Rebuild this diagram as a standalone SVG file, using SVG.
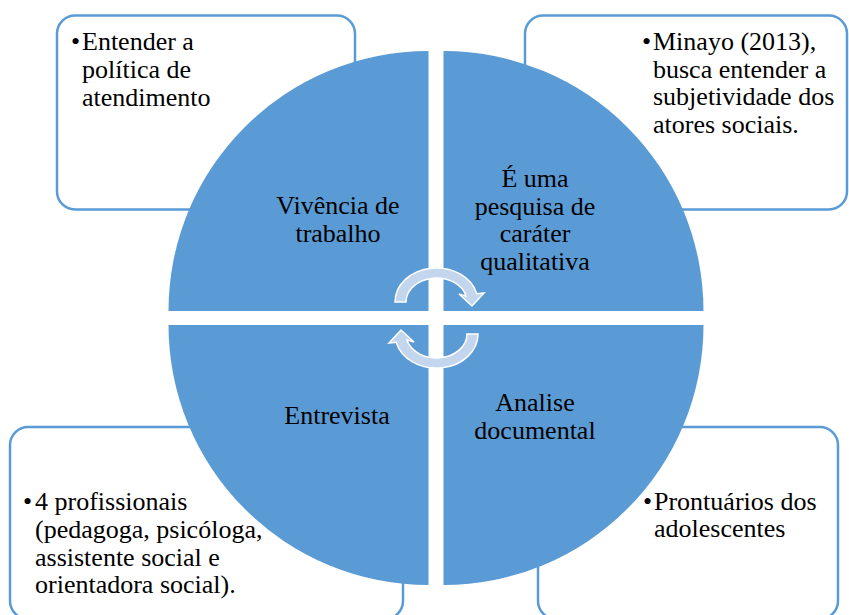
<svg xmlns="http://www.w3.org/2000/svg" width="849" height="615" viewBox="0 0 849 615">
<defs>
<path id="cyc" d="M395,302 A41.5,34 0 0 1 476.8,293.8 L484,293 L472,306 L459,294 L466.1,296.2 A30.5,24 0 0 0 406,302 Z"/>
</defs>
<rect width="849" height="615" fill="#fff"/>
<g id="box-tl"><rect fill="#fff" stroke="#5B9BD5" stroke-width="2.5" x="57" y="15.5" width="298" height="194" rx="18"/></g>
<g id="box-tr"><rect fill="#fff" stroke="#5B9BD5" stroke-width="2.5" x="525" y="15.5" width="322" height="194" rx="18"/></g>
<g id="box-bl"><rect fill="#fff" stroke="#5B9BD5" stroke-width="2.5" x="10" y="427" width="393" height="192" rx="18"/></g>
<g id="box-br"><rect fill="#fff" stroke="#5B9BD5" stroke-width="2.5" x="538" y="427" width="300" height="192" rx="18"/></g>
<g id="q-tl"><path fill="#5B9BD5" d="M428.5,311 L168.5,311 A260,260 0 0 1 428.5,51 Z"/></g>
<g id="q-tr"><path fill="#5B9BD5" d="M443.5,311 L443.5,51 A260,260 0 0 1 703.5,311 Z"/></g>
<g id="q-bl"><path fill="#5B9BD5" d="M428.5,325 L428.5,585 A260,260 0 0 1 168.5,325 Z"/></g>
<g id="q-br"><path fill="#5B9BD5" d="M443.5,325 L703.5,325 A260,260 0 0 1 443.5,585 Z"/></g>
<g id="connectors" fill="#C3D6EE" stroke="#fff" stroke-width="1.5">
<use href="#cyc"/>
<use href="#cyc" transform="rotate(180 436.5 318)"/>
</g>
<text x="71" y="50" font-family="Liberation Serif" font-size="26">•</text>
<text x="82" y="50" font-family="Liberation Serif" font-size="26">Entender a</text>
<text x="82" y="78" font-family="Liberation Serif" font-size="26">política de</text>
<text x="82" y="106" font-family="Liberation Serif" font-size="26">atendimento</text>
<text x="642" y="50" font-family="Liberation Serif" font-size="26">•</text>
<text x="653" y="50" font-family="Liberation Serif" font-size="26">Minayo (2013),</text>
<text x="653" y="77.5" font-family="Liberation Serif" font-size="26">busca entender a</text>
<text x="653" y="105" font-family="Liberation Serif" font-size="26">subjetividade dos</text>
<text x="653" y="132.5" font-family="Liberation Serif" font-size="26">atores sociais.</text>
<text x="23" y="510" font-family="Liberation Serif" font-size="26">•</text>
<text x="35" y="510" font-family="Liberation Serif" font-size="26">4 profissionais</text>
<text x="35" y="538" font-family="Liberation Serif" font-size="26">(pedagoga, psicóloga,</text>
<text x="35" y="566" font-family="Liberation Serif" font-size="26">assistente social e</text>
<text x="35" y="593" font-family="Liberation Serif" font-size="26">orientadora social).</text>
<text x="643" y="510" font-family="Liberation Serif" font-size="26">•</text>
<text x="654" y="510" font-family="Liberation Serif" font-size="26">Prontuários dos</text>
<text x="654" y="537" font-family="Liberation Serif" font-size="26">adolescentes</text>
<text x="338" y="214" font-family="Liberation Serif" font-size="26" text-anchor="middle">Vivência de</text>
<text x="338" y="242" font-family="Liberation Serif" font-size="26" text-anchor="middle">trabalho</text>
<text x="535" y="187" font-family="Liberation Serif" font-size="26" text-anchor="middle">É uma</text>
<text x="535" y="214.5" font-family="Liberation Serif" font-size="26" text-anchor="middle">pesquisa de</text>
<text x="535" y="242" font-family="Liberation Serif" font-size="26" text-anchor="middle">caráter</text>
<text x="535" y="269.5" font-family="Liberation Serif" font-size="26" text-anchor="middle">qualitativa</text>
<text x="337" y="424" font-family="Liberation Serif" font-size="26" text-anchor="middle">Entrevista</text>
<text x="535" y="411" font-family="Liberation Serif" font-size="26" text-anchor="middle">Analise</text>
<text x="535" y="439" font-family="Liberation Serif" font-size="26" text-anchor="middle">documental</text>
</svg>
